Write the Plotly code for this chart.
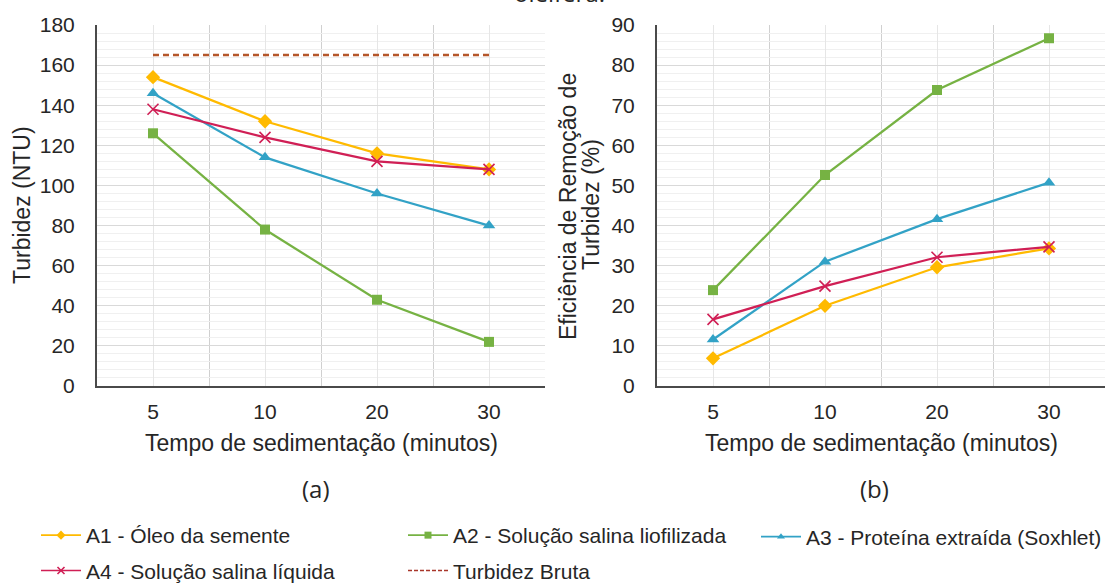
import plotly.graph_objects as go

# Sedimentation times (minutes) shown on the category axis
categories = ["5", "10", "20", "30"]

# Panel (a): turbidity (NTU) after sedimentation
turb_a1 = [154, 132, 116, 108]
turb_a2 = [126, 78, 43, 22]
turb_a3 = [146, 114, 96, 80]
turb_a4 = [138, 124, 112, 108]
turb_bruta = [165, 165, 165, 165]

# Panel (b): turbidity removal efficiency (%)
ef_a1 = [6.9, 20.0, 29.6, 34.3]
ef_a2 = [23.9, 52.6, 73.8, 86.7]
ef_a3 = [11.6, 31.0, 41.6, 50.7]
ef_a4 = [16.6, 24.9, 32.1, 34.7]

series_names = [
    "A1 - Óleo da semente",
    "A2 - Solução salina liofilizada",
    "A3 - Proteína extraída (Soxhlet)",
    "A4 - Solução salina líquida",
]
bruta_name = "Turbidez Bruta"

W, H = 1110, 583
FONT = "Arial, Liberation Sans, sans-serif"
TEXT = "#262626"


def fx(p):
    return p / W


def fy(p):
    return 1 - p / H


pos = list(range(len(categories)))

styles = [
    dict(color="#FFBA00", symbol="diamond", size=11, legend="legend"),
    dict(color="#76B243", symbol="square", size=10, legend="legend2"),
    dict(color="#32A2C6", symbol="triangle-up", size=11, legend="legend3"),
    dict(color="#D01F55", symbol="x-thin", size=11, legend="legend"),
]
turb = [turb_a1, turb_a2, turb_a3, turb_a4]
efic = [ef_a1, ef_a2, ef_a3, ef_a4]
bruta_color = "#B5562A"

fig = go.Figure()


def marker_for(st, size):
    m = dict(symbol=st["symbol"], size=size, color=st["color"])
    if st["symbol"] == "x-thin":
        m["line"] = dict(color=st["color"], width=1.6)
    return m


# data traces for both panels
for name, st, ya, yb in zip(series_names, styles, turb, efic):
    line = dict(color=st["color"], width=2.25)
    for xs, ys, xa, yax in ((pos, ya, "x", "y"), (pos, yb, "x2", "y2")):
        fig.add_trace(go.Scatter(
            x=xs, y=ys, mode="lines+markers", name=name, line=line,
            marker=marker_for(st, st["size"]), xaxis=xa, yaxis=yax, showlegend=False,
        ))

fig.add_trace(go.Scatter(
    x=pos, y=turb_bruta, mode="lines", name=bruta_name,
    line=dict(color=bruta_color, width=2.5, dash="6px,4px"),
    xaxis="x", yaxis="y", showlegend=False,
))

# legend entries with slimmer keys
legend_entries = [
    (series_names[0], styles[0], "legend"),
    (series_names[3], styles[3], "legend"),
    (series_names[1], styles[1], "legend2"),
    (series_names[2], styles[2], "legend3"),
]
for name, st, lg in legend_entries:
    fig.add_trace(go.Scatter(
        x=[None], y=[None], mode="lines+markers", name=name,
        line=dict(color=st["color"], width=1.6), marker=marker_for(st, 7),
        xaxis="x", yaxis="y", legend=lg, legendgroup=name,
    ))
fig.add_trace(go.Scatter(
    x=[None], y=[None], mode="lines", name=bruta_name,
    line=dict(color="#A8362A", width=1.6, dash="4px,2px"),
    xaxis="x", yaxis="y", legend="legend2", legendgroup=bruta_name,
))

xaxis_common = dict(
    range=[-0.5, len(categories) - 0.5],
    tickvals=pos, ticktext=categories,
    showgrid=True, gridcolor="#e6e6e6", gridwidth=1,
    minor=dict(tick0=-0.5, dtick=1, showgrid=True, gridcolor="#d0d0d0", gridwidth=1),
    showline=True, linecolor="#4a4a4a", linewidth=2,
    ticks="outside", ticklen=6, tickcolor="rgba(0,0,0,0)",
    tickfont=dict(family=FONT, size=21, color=TEXT),
    zeroline=False, fixedrange=True, automargin=False,
)
yaxis_common = dict(
    showgrid=True, gridcolor="#d9d9d9", gridwidth=1,
    showline=True, linecolor="#4a4a4a", linewidth=2,
    ticks="outside", ticklen=16, tickcolor="rgba(0,0,0,0)",
    tickfont=dict(family=FONT, size=21, color=TEXT),
    zeroline=False, fixedrange=True, automargin=False,
)

ydom = [fy(386), fy(25)]

legend_common = dict(
    orientation="v", xanchor="left", yanchor="middle",
    font=dict(family=FONT, size=21, color=TEXT),
    bgcolor="rgba(0,0,0,0)", tracegroupgap=5, itemwidth=40,
    itemclick=False, itemdoubleclick=False,
)

fig.update_layout(
    width=W, height=H, autosize=False,
    margin=dict(l=0, r=0, t=0, b=0, pad=0, autoexpand=False),
    paper_bgcolor="white", plot_bgcolor="white",
    xaxis=dict(domain=[fx(97), fx(545)], anchor="y", **xaxis_common),
    yaxis=dict(domain=ydom, anchor="x", range=[0, 180], dtick=20,
               minor=dict(dtick=4, showgrid=True, gridcolor="#f0f0f0"), **yaxis_common),
    xaxis2=dict(domain=[fx(657), fx(1105)], anchor="y2", **xaxis_common),
    yaxis2=dict(domain=ydom, anchor="x2", range=[0, 90], dtick=10,
                minor=dict(dtick=2, showgrid=True, gridcolor="#f0f0f0"), **yaxis_common),
    legend=dict(x=fx(36), y=fy(553), **legend_common),
    legend2=dict(x=fx(403), y=fy(553), **legend_common),
    legend3=dict(x=fx(756), y=fy(537), **legend_common),
)

title_font = dict(family=FONT, size=23, color=TEXT)
label_font = dict(family="Open Sans, Noto Sans, sans-serif", size=24, color=TEXT)

annotations = [
    dict(text="Turbidez (NTU)", x=fx(22), y=fy(205), textangle=-90, font=title_font),
    dict(text="Eficiência de Remoção de", x=fx(568), y=fy(207), textangle=-90, font=title_font),
    dict(text="Turbidez (%)", x=fx(591), y=fy(205), textangle=-90, font=title_font),
    dict(text="Tempo de sedimentação (minutos)", x=fx(321), y=fy(443), font=title_font),
    dict(text="Tempo de sedimentação (minutos)", x=fx(881), y=fy(443), font=title_font),
    dict(text="(a)", x=fx(316), y=fy(488), font=label_font),
    dict(text="(b)", x=fx(874), y=fy(488), font=label_font),
    dict(text="oleifera.", x=fx(559), y=fy(-7), font=label_font),
]
for a in annotations:
    a.update(xref="paper", yref="paper", xanchor="center", yanchor="middle", showarrow=False)
fig.update_layout(annotations=annotations)

fig.write_html("out.html", config=dict(displayModeBar=False, staticPlot=True))
